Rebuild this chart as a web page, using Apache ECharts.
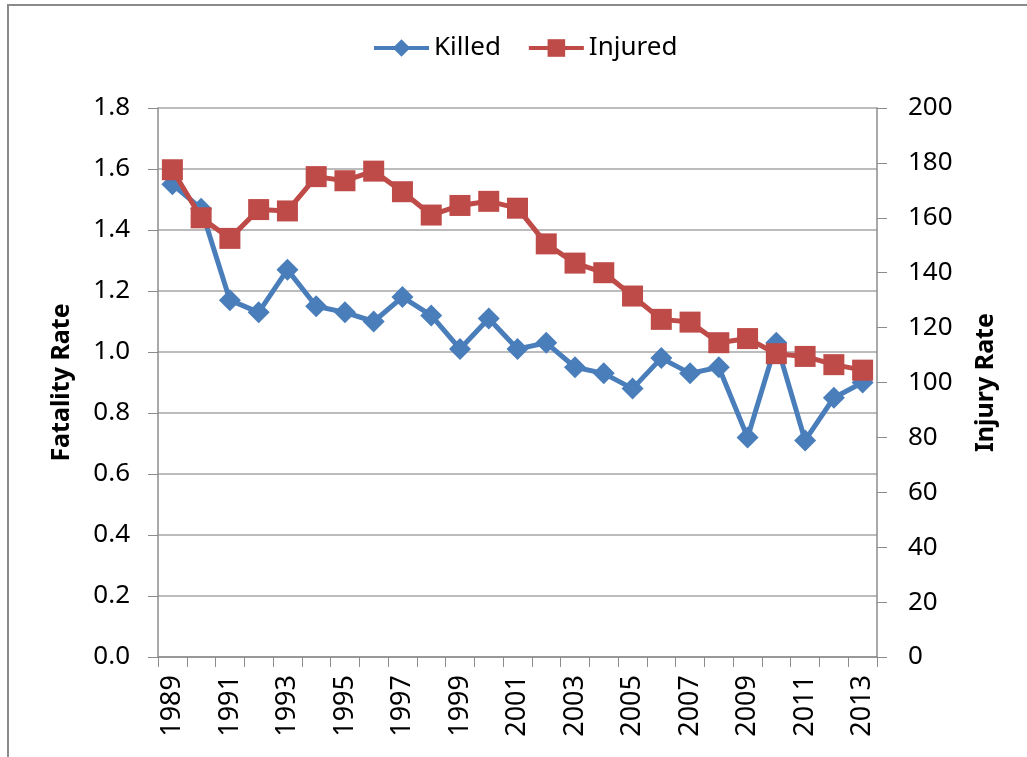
<!DOCTYPE html>
<html>
<head>
<meta charset="utf-8">
<script src="https://cdn.jsdelivr.net/npm/echarts@6/dist/echarts.min.js"></script>
<style>
    html, body { margin: 0; padding: 0; background: #fff; }
    #chart { width: 1027px; height: 757px; }
</style>
</head>
<body>
<div id="chart"></div>
<script>
// 年份
let years = ['1989','1990','1991','1992','1993','1994','1995','1996','1997','1998','1999','2000','2001',
    '2002','2003','2004','2005','2006','2007','2008','2009','2010','2011','2012','2013'];
// 死亡率（左轴）
let killed = [1.55, 1.47, 1.17, 1.13, 1.27, 1.15, 1.13, 1.10, 1.18, 1.12, 1.01, 1.11, 1.01,
    1.03, 0.95, 0.93, 0.88, 0.98, 0.93, 0.95, 0.72, 1.03, 0.71, 0.85, 0.90];
// 受伤率（右轴）
let injured = [177.5, 160, 152.5, 163, 162.5, 175, 173.5, 177, 169.5, 161, 164.5, 166, 163.5,
    150.5, 143.5, 140, 131.5, 123, 122, 114.5, 116, 110.5, 109.5, 106.5, 104.5];

let font = 'Noto Sans';
let axisGrey = '#8c8c8c';

let chart = echarts.init(document.getElementById('chart'));
let option = {
    animation: false,
    textStyle: { fontFamily: font },
    graphic: [{
        type: 'rect',
        shape: { x: 8, y: 5, width: 1100, height: 800 },
        style: { fill: 'none', stroke: '#8a8a8a', lineWidth: 2 }
    }],
    legend: {
        top: 30,
        left: 367,
        itemWidth: 55,
        itemHeight: 22,
        itemGap: 26,
        lineStyle: { width: 4 },
        textStyle: { fontSize: 26, color: '#000', fontFamily: font },
        data: ['Killed', 'Injured']
    },
    grid: { left: 158, right: 150, top: 108, bottom: 100 },
    xAxis: {
        type: 'category',
        data: years,
        boundaryGap: true,
        axisLine: { lineStyle: { color: axisGrey, width: 1.5 } },
        axisTick: { show: true, interval: 0, length: 10, lineStyle: { color: axisGrey } },
        axisLabel: { interval: 1, rotate: 90, fontSize: 27, color: '#000', margin: 18, fontFamily: font }
    },
    yAxis: [{
        type: 'value',
        min: 0, max: 1.8, interval: 0.2,
        name: 'Fatality Rate',
        nameLocation: 'middle',
        nameRotate: 90,
        nameGap: 84,
        nameTextStyle: { fontSize: 25, fontWeight: 'bold', color: '#000', fontFamily: font },
        axisLine: { show: true, lineStyle: { color: axisGrey, width: 1.5 } },
        axisTick: { show: true, length: 10, lineStyle: { color: axisGrey } },
        axisLabel: { fontSize: 26, color: '#000', margin: 28, fontFamily: font,
            formatter: v => v.toFixed(1) },
        splitLine: { show: true, lineStyle: { color: '#a6a6a6', width: 1.5 } }
    }, {
        type: 'value',
        min: 0, max: 200, interval: 20,
        name: 'Injury Rate',
        nameLocation: 'middle',
        nameRotate: 90,
        nameGap: 96,
        nameTextStyle: { fontSize: 25, fontWeight: 'bold', color: '#000', fontFamily: font },
        axisLine: { show: true, lineStyle: { color: axisGrey, width: 1.5 } },
        axisTick: { show: true, length: 10, lineStyle: { color: axisGrey } },
        axisLabel: { fontSize: 26, color: '#000', margin: 31, fontFamily: font },
        splitLine: { show: false }
    }],
    series: [{
        name: 'Killed',
        type: 'line',
        yAxisIndex: 0,
        data: killed,
        showSymbol: true,
        showAllSymbol: true,
        symbol: 'diamond',
        symbolSize: 22,
        itemStyle: { color: '#4a7ebb' },
        lineStyle: { color: '#4a7ebb', width: 5 },
        z: 2
    }, {
        name: 'Injured',
        type: 'line',
        yAxisIndex: 1,
        data: injured,
        showSymbol: true,
        showAllSymbol: true,
        symbol: 'rect',
        symbolSize: 21,
        itemStyle: { color: '#be4b48' },
        lineStyle: { color: '#be4b48', width: 5 },
        z: 3
    }]
};
chart.setOption(option);
</script>
</body>
</html>
